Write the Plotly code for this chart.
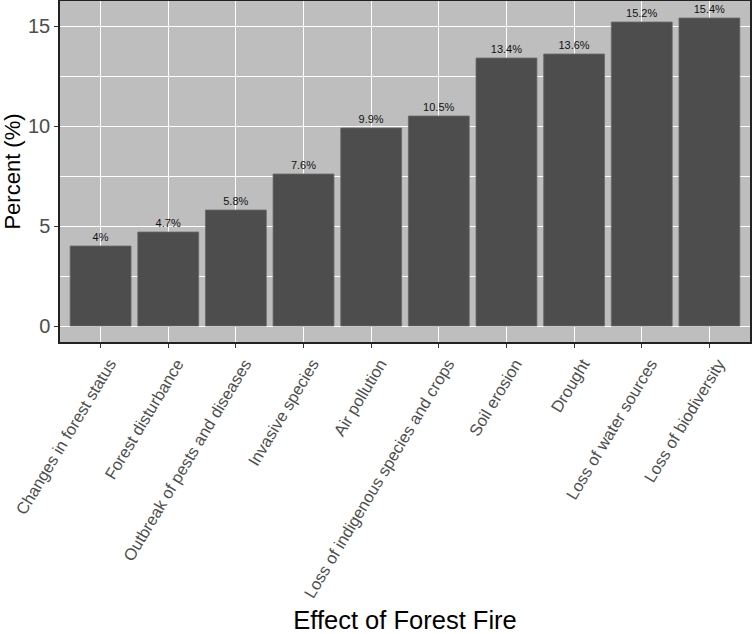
import plotly.graph_objects as go

categories = ["Changes in forest status", "Forest disturbance", "Outbreak of pests and diseases",
              "Invasive species", "Air pollution", "Loss of indigenous species and crops",
              "Soil erosion", "Drought", "Loss of water sources", "Loss of biodiversity"]
values = [4, 4.7, 5.8, 7.6, 9.9, 10.5, 13.4, 13.6, 15.2, 15.4]
labels = [f"{v:g}%" for v in values]
y_ticks = [0, 5, 10, 15]

FONT = "Arial, Liberation Sans, sans-serif"

fig = go.Figure(go.Bar(
    x=categories, y=values, text=labels, textposition="outside",
    textfont=dict(family=FONT, size=11, color="#111111"),
    marker=dict(color="#4D4D4D", line=dict(color="#6A6A6A", width=0.8)),
    width=0.9, cliponaxis=False,
))

fig.update_layout(
    width=752, height=634,
    margin=dict(l=60, r=2, t=1, b=292),
    plot_bgcolor="#BEBEBE", paper_bgcolor="white",
    showlegend=False,
    font=dict(family=FONT),
    bargap=0.1,
)
fig.update_xaxes(
    range=[-0.6, 9.6], tickangle=-59, automargin=False,
    tickfont=dict(family=FONT, size=16.5, color="#4D4D4D"),
    ticklabelshift=9,
    showgrid=True, gridcolor="white", gridwidth=1.2,
    showline=True, linecolor="#222222", linewidth=1.5, mirror=True,
    ticks="outside", ticklen=4, tickcolor="#333333",
    title=dict(text="Effect of Forest Fire", font=dict(family=FONT, size=25.5, color="black"), standoff=14),
)
fig.update_yaxes(
    range=[-0.8, 16.25], tickvals=y_ticks, automargin=False,
    tickfont=dict(family=FONT, size=20, color="#4D4D4D"),
    showgrid=True, gridcolor="white", gridwidth=1.2, zeroline=False,
    minor=dict(tickvals=[2.5, 7.5, 12.5], showgrid=True, gridcolor="white", gridwidth=0.6, ticks=""),
    showline=True, linecolor="#222222", linewidth=1.5, mirror=True,
    ticks="outside", ticklen=4, tickcolor="#333333",
    title=dict(text="Percent (%)", font=dict(family=FONT, size=22, color="black"), standoff=6),
)

fig.write_html("out.html")
